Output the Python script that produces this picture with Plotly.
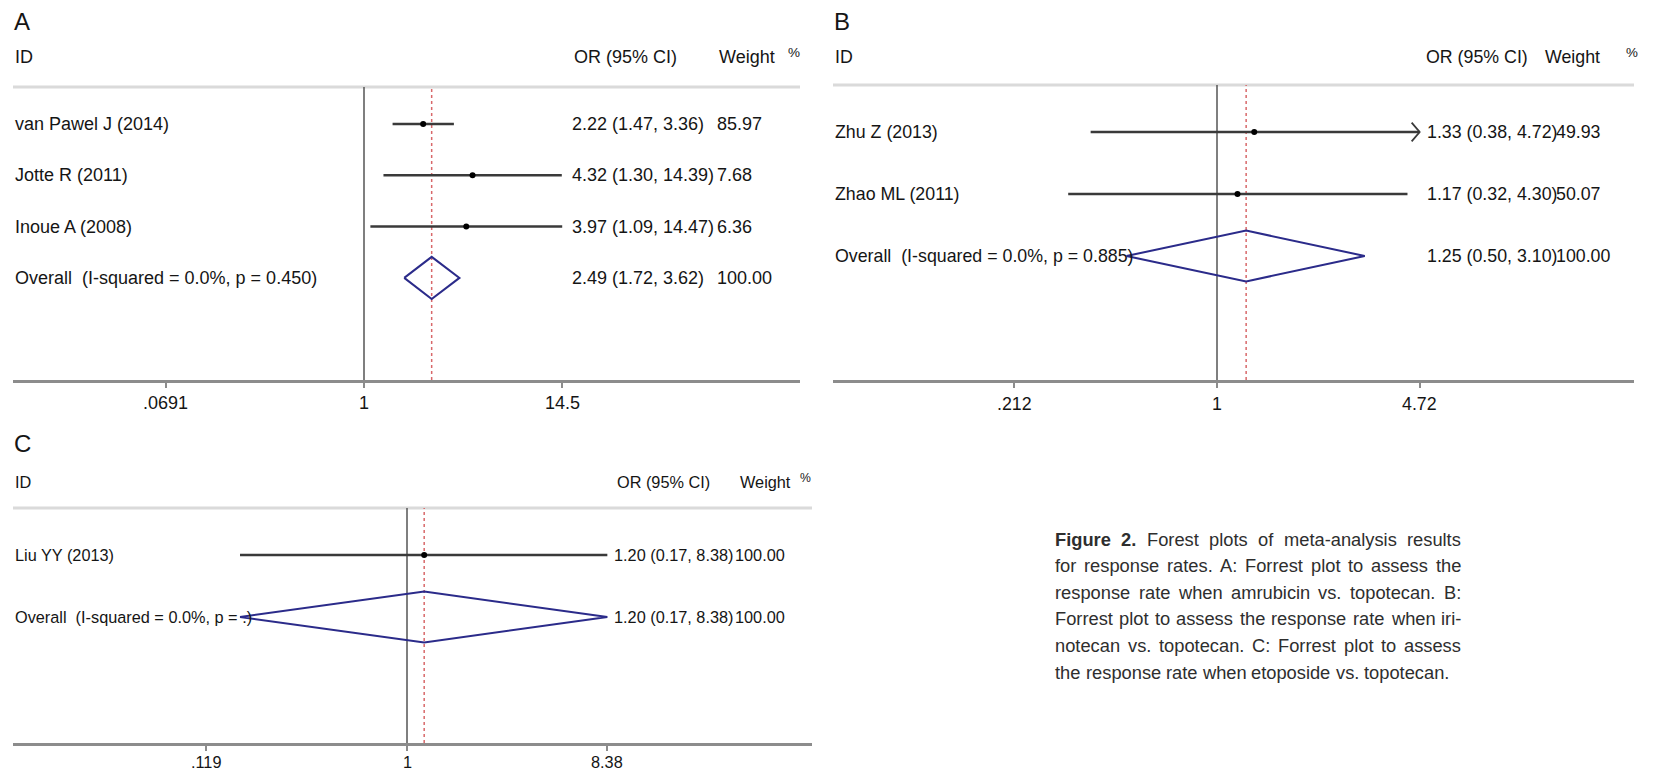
import math
import plotly.graph_objects as go

W, H = 1653, 774

# ---------------- data ----------------
A_studies = ["van Pawel J (2014)", "Jotte R (2011)", "Inoue A (2008)"]
A_or = [2.22, 4.32, 3.97]
A_lo = [1.47, 1.30, 1.09]
A_hi = [3.36, 14.39, 14.47]
A_w = [85.97, 7.68, 6.36]
A_overall = [2.49, 1.72, 3.62, 100.00]
A_het = "Overall  (I-squared = 0.0%, p = 0.450)"
A_ticks = [0.0691, 1, 14.5]
A_ticklabels = [".0691", "1", "14.5"]
A_truncated = [False, False, False]

B_studies = ["Zhu Z (2013)", "Zhao ML (2011)"]
B_or = [1.33, 1.17]
B_lo = [0.38, 0.32]
B_hi = [4.72, 4.30]
B_w = [49.93, 50.07]
B_overall = [1.25, 0.50, 3.10, 100.00]
B_het = "Overall  (I-squared = 0.0%, p = 0.885)"
B_ticks = [0.212, 1, 4.72]
B_ticklabels = [".212", "1", "4.72"]
B_truncated = [True, False]

C_studies = ["Liu YY (2013)"]
C_or = [1.20]
C_lo = [0.17]
C_hi = [8.38]
C_w = [100.00]
C_overall = [1.20, 0.17, 8.38, 100.00]
C_het = "Overall  (I-squared = 0.0%, p = .)"
C_ticks = [0.119, 1, 8.38]
C_ticklabels = [".119", "1", "8.38"]
C_truncated = [False]

caption_lines = [
    "Figure 2. Forest plots of meta-analysis results",
    "for response rates. A: Forrest plot to assess the",
    "response rate when amrubicin vs. topotecan. B:",
    "Forrest plot to assess the response rate when iri-",
    "notecan vs. topotecan. C: Forrest plot to assess",
    "the response rate when etoposide vs. topotecan.",
]

# ---------------- layout geometry (pixels) ----------------
FONT = "Liberation Sans, Arial, sans-serif"
TXT = "#151515"

panels = [
    dict(xa="x", ya="y", label="A", studies=A_studies, orv=A_or, lo=A_lo, hi=A_hi, w=A_w,
         ov=A_overall, het=A_het, ticks=A_ticks, ticklabels=A_ticklabels, trunc=A_truncated,
         xl=13, xr=800, null_px=364, dec_px=170.8, top=87, bottom=380, row0=124, step=51.3,
         fs=18, cfs=18, lab_y=22, head_y=57, tick_y=403, ci_x=570, w_x=715, hOR_x=572, hW_x=717, hP_x=786),
    dict(xa="x2", ya="y2", label="B", studies=B_studies, orv=B_or, lo=B_lo, hi=B_hi, w=B_w,
         ov=B_overall, het=B_het, ticks=B_ticks, ticklabels=B_ticklabels, trunc=B_truncated,
         xl=833, xr=1634, null_px=1217, dec_px=300.7, top=85, bottom=380, row0=132, step=62,
         fs=17.8, cfs=17.8, lab_y=22, head_y=57, tick_y=404, ci_x=1425, w_x=1554, hOR_x=1424, hW_x=1543, hP_x=1624),
    dict(xa="x3", ya="y3", label="C", studies=C_studies, orv=C_or, lo=C_lo, hi=C_hi, w=C_w,
         ov=C_overall, het=C_het, ticks=C_ticks, ticklabels=C_ticklabels, trunc=C_truncated,
         xl=13, xr=812, null_px=407, dec_px=217, top=508, bottom=743, row0=555, step=62,
         fs=16.3, cfs=16.3, lab_y=443, head_y=482, tick_y=762, ci_x=612, w_x=733, hOR_x=615, hW_x=738, hP_x=798),
]

fig = go.Figure()
annotations = []
shapes = []
layout_axes = {}


def px(xp):
    return xp / W


def py(yp):
    return 1 - yp / H


for i, p in enumerate(panels):
    n = len(p["studies"])
    rows = list(range(1, n + 1))
    ov_row = n + 1
    to_row = lambda yp: 1 + (yp - p["row0"]) / p["step"]
    yr = [to_row(p["bottom"]), to_row(p["top"])]
    xr = [(p["xl"] - p["null_px"]) / p["dec_px"], (p["xr"] - p["null_px"]) / p["dec_px"]]
    xa, ya = p["xa"], p["ya"]
    xkey = "xaxis" if xa == "x" else "xaxis" + xa[1:]
    ykey = "yaxis" if ya == "y" else "yaxis" + ya[1:]
    layout_axes[xkey] = dict(
        type="log", range=xr, domain=[px(p["xl"]), px(p["xr"])], anchor=ya,
        showgrid=False, zeroline=False, showline=True, linecolor="#8c8c8c", linewidth=2.5,
        ticks="outside", ticklen=5, tickwidth=1.5, tickcolor="#8c8c8c",
        tickvals=p["ticks"], showticklabels=False, fixedrange=True,
    )
    layout_axes[ykey] = dict(
        range=yr, domain=[py(p["bottom"]), py(p["top"])], anchor=xa, visible=False,
        fixedrange=True,
    )

    # tick labels (placed on the log axis: annotation x is log10 of the value)
    for tv, tl in zip(p["ticks"], p["ticklabels"]):
        annotations.append(dict(text=tl, x=math.log10(tv), y=py(p["tick_y"]), xref=xa, yref="paper",
                                xanchor="center", yanchor="middle", showarrow=False,
                                font=dict(family=FONT, size=p["fs"], color=TXT)))

    # separator line at top
    shapes.append(dict(type="line", xref=xa + " domain", yref=ya + " domain", x0=0, x1=1, y0=1, y1=1,
                       line=dict(color="#dadada", width=3), layer="below"))
    # null line
    shapes.append(dict(type="line", xref=xa, yref=ya + " domain", x0=1, x1=1, y0=0, y1=1,
                       line=dict(color="#555555", width=1.5), layer="below"))
    # overall effect line
    shapes.append(dict(type="line", xref=xa, yref=ya + " domain", x0=p["ov"][0], x1=p["ov"][0], y0=0, y1=1,
                       line=dict(color="#d8686a", width=1.5, dash="3px,3px"), layer="below"))

    # CI lines
    for r, lo, hi, orv, tr in zip(rows, p["lo"], p["hi"], p["orv"], p["trunc"]):
        fig.add_trace(go.Scatter(x=[lo, hi], y=[r, r], mode="lines", xaxis=xa, yaxis=ya,
                                 line=dict(color="#3a3a3a", width=2.5), hoverinfo="skip", showlegend=False))
        if tr:
            k = 10 ** (8 / p["dec_px"])
            fig.add_trace(go.Scatter(x=[hi / k, hi, hi / k], y=[r - 0.15, r, r + 0.15], mode="lines",
                                     xaxis=xa, yaxis=ya, line=dict(color="#3a3a3a", width=1.8),
                                     hoverinfo="skip", showlegend=False))
    # point estimates
    fig.add_trace(go.Scatter(x=p["orv"], y=rows, mode="markers", xaxis=xa, yaxis=ya,
                             marker=dict(color="#000000", size=6), hoverinfo="skip", showlegend=False))
    # overall diamond
    o, olo, ohi, ow = p["ov"]
    hgt = 0.41
    fig.add_trace(go.Scatter(x=[olo, o, ohi, o, olo], y=[ov_row, ov_row - hgt, ov_row, ov_row + hgt, ov_row],
                             mode="lines", xaxis=xa, yaxis=ya, line=dict(color="#2b2b8a", width=2),
                             hoverinfo="skip", showlegend=False))

    fnt = dict(family=FONT, size=p["fs"], color=TXT)
    cfnt = dict(family=FONT, size=p["cfs"], color=TXT)
    # panel letter
    annotations.append(dict(text=p["label"], x=px(p["xl"] - 1), y=py(p["lab_y"]), xref="paper", yref="paper",
                            xanchor="left", yanchor="middle", showarrow=False,
                            font=dict(family=FONT, size=24, color=TXT)))
    # headers
    for t, xx in [("ID", p["xl"]), ("OR (95% CI)", p["hOR_x"]), ("Weight", p["hW_x"])]:
        annotations.append(dict(text=t, x=px(xx), y=py(p["head_y"]), xref="paper", yref="paper",
                                xanchor="left", yanchor="middle", showarrow=False, font=fnt))
    annotations.append(dict(text="%", x=px(p["hP_x"]), y=py(p["head_y"] - 4), xref="paper", yref="paper",
                            xanchor="left", yanchor="middle", showarrow=False,
                            font=dict(family=FONT, size=p["fs"] * 0.75, color=TXT)))
    # rows
    labels = p["studies"] + [p["het"]]
    cis = [f"{a:.2f} ({b:.2f}, {c:.2f})" for a, b, c in zip(p["orv"], p["lo"], p["hi"])] + \
          [f"{o:.2f} ({olo:.2f}, {ohi:.2f})"]
    ws = [f"{v:.2f}" for v in p["w"]] + [f"{ow:.2f}"]
    for r, lab, ci, wt in zip(rows + [ov_row], labels, cis, ws):
        annotations.append(dict(text=lab, x=px(p["xl"]), y=r, xref="paper", yref=ya,
                                xanchor="left", yanchor="middle", showarrow=False, font=fnt))
        annotations.append(dict(text=ci, x=px(p["ci_x"]), y=r, xref="paper", yref=ya,
                                xanchor="left", yanchor="middle", showarrow=False, font=cfnt))
        annotations.append(dict(text=wt, x=px(p["w_x"]), y=r, xref="paper", yref=ya,
                                xanchor="left", yanchor="middle", showarrow=False, font=cfnt))

# ---------------- caption (justified using Arial metrics) ----------------
REG = {" ": 278, "(": 333, ")": 333, ",": 278, "-": 333, ".": 278, ":": 278}
for ch in "0123456789":
    REG[ch] = 556
REG.update(dict(A=667, B=667, C=722, D=722, E=667, F=611, G=778, H=722, I=278, J=500, K=667, L=556,
                M=833, N=722, O=778, P=667, Q=778, R=722, S=667, T=611, U=722, V=667, W=944, X=667,
                Y=667, Z=611))
REG.update(dict(a=556, b=556, c=500, d=556, e=556, f=278, g=556, h=556, i=222, j=222, k=500, l=222,
                m=833, n=556, o=556, p=556, q=556, r=333, s=500, t=278, u=556, v=500, w=722, x=500,
                y=500, z=500))
BOLD = dict(REG)
BOLD.update({"F": 611, "i": 278, "g": 611, "u": 611, "r": 389, "e": 556, "2": 556, ".": 278})

CAP_FS = 18.3
CAP_X0, CAP_X1 = 1053, 1459
CAP_Y0, CAP_DY = 539, 26.6
bold_words = {"Figure", "2."}


def wwidth(word, bold):
    tab = BOLD if bold else REG
    return sum(tab.get(ch, 556) for ch in word) / 1000 * CAP_FS


for li, line in enumerate(caption_lines):
    words = line.split(" ")
    bolds = [(li == 0 and wd in bold_words) for wd in words]
    widths = [wwidth(wd, b) for wd, b in zip(words, bolds)]
    if li < len(caption_lines) - 1:
        gap = (CAP_X1 - CAP_X0 - sum(widths)) / (len(words) - 1)
    else:
        gap = REG[" "] / 1000 * CAP_FS
    x = CAP_X0
    for wd, b, wdt in zip(words, bolds, widths):
        annotations.append(dict(text=(f"<b>{wd}</b>" if b else wd), x=px(x), y=py(CAP_Y0 + li * CAP_DY),
                                xref="paper", yref="paper", xanchor="left", yanchor="middle",
                                showarrow=False, font=dict(family=FONT, size=CAP_FS, color="#2e2e2e")))
        x += wdt + gap

fig.update_layout(
    width=W, height=H, margin=dict(l=0, r=0, t=0, b=0),
    paper_bgcolor="white", plot_bgcolor="rgba(0,0,0,0)",
    annotations=annotations, shapes=shapes, showlegend=False,
    **layout_axes,
)

fig.write_html(
    "out.html",
    config={"displayModeBar": False},
    post_script="document.body.style.margin='0';document.body.style.overflow='hidden';",
)
